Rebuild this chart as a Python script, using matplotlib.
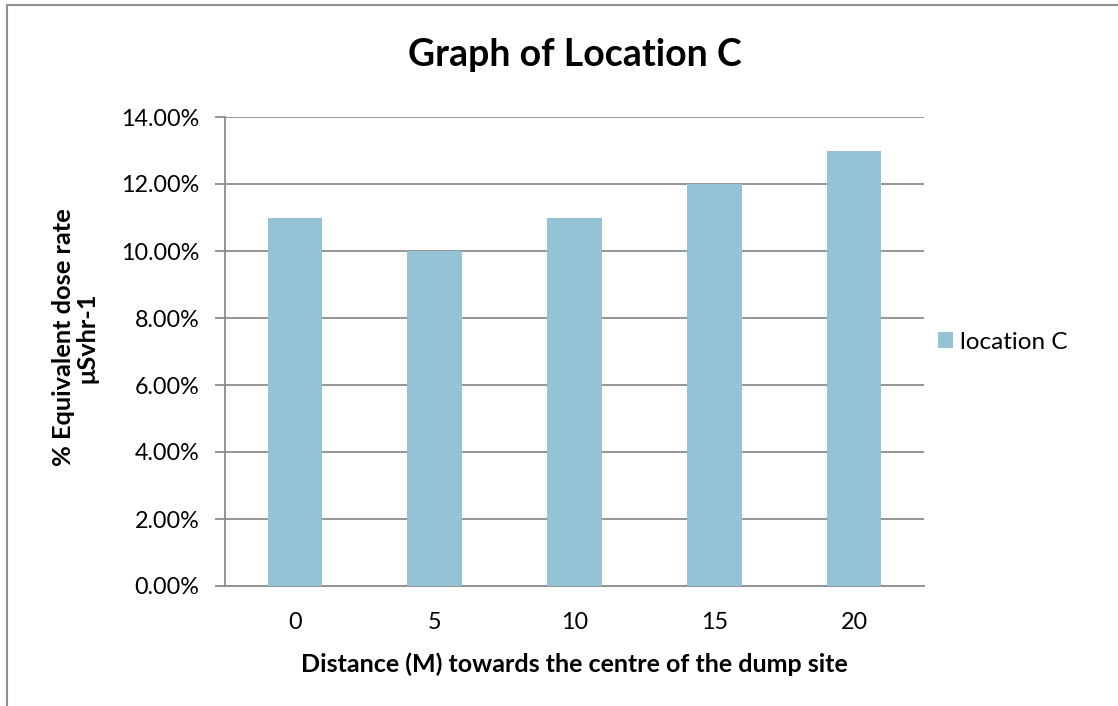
import matplotlib
matplotlib.use("Agg")
import matplotlib.pyplot as plt
from matplotlib.lines import Line2D
from matplotlib.ticker import FuncFormatter

categories = ["0", "5", "10", "15", "20"]
values = [0.11, 0.10, 0.11, 0.12, 0.13]
series_name = "location C"
yticks = [0.0, 0.02, 0.04, 0.06, 0.08, 0.10, 0.12, 0.14]

plt.rcParams['font.family'] = ['Lato', 'DejaVu Sans']

W, H = 1118, 706
fig = plt.figure(figsize=(W / 100, H / 100), dpi=100)
ax = fig.add_axes([225 / W, 1 - 586 / H, (924 - 225) / W, (586 - 117) / H])

bar_color = "#93C3D4"
x = list(range(len(categories)))
ax.bar(x, values, width=0.39, color=bar_color, label=series_name, zorder=3)

ax.set_xlim(-0.5, len(categories) - 0.5)
ax.set_ylim(0, 0.14)
ax.set_yticks(yticks)
ax.yaxis.set_major_formatter(FuncFormatter(lambda v, p: f"{v*100:.2f}%"))
ax.set_xticks(x)
ax.set_xticklabels(categories)

grid_c = "#8c8c8c"
ax.yaxis.grid(True, color=grid_c, linewidth=1.3, zorder=0)
for s in ["top", "right"]:
    ax.spines[s].set_visible(False)
for s in ["left", "bottom"]:
    ax.spines[s].set_color(grid_c)
    ax.spines[s].set_linewidth(1.3)
ax.tick_params(axis="y", length=7, width=1.3, color=grid_c, labelsize=16.8, pad=11.5)
ax.tick_params(axis="x", length=0, labelsize=16.8, pad=19)

ax.set_xlabel("Distance (M) towards the centre of the dump site", fontsize=18,
              fontweight="bold", labelpad=14)
ax.set_ylabel("% Equivalent dose rate\nμSvhr-1", fontsize=18.3, fontweight="bold",
              linespacing=1.05)
ax.yaxis.set_label_coords(-0.181, 0.53)

fig.text(0.5 * (225 + 924) / W, 1 - 55 / H, "Graph of Location C", ha="center",
         va="center", fontsize=27, fontweight="bold")

leg = ax.legend(loc="center left", bbox_to_anchor=(0.989, 0.52), frameon=False,
                fontsize=17.5, handlelength=0.6, handleheight=0.6, handletextpad=0.3)

frame_c = "#8f8f8f"
fig.add_artist(Line2D([7 / W, 7 / W], [0, 1 - 5 / H], transform=fig.transFigure,
                      color=frame_c, linewidth=1.5))
fig.add_artist(Line2D([7 / W, 1], [1 - 5 / H, 1 - 5 / H], transform=fig.transFigure,
                      color=frame_c, linewidth=1.5))

fig.savefig("out.png", dpi=100, facecolor="white")
